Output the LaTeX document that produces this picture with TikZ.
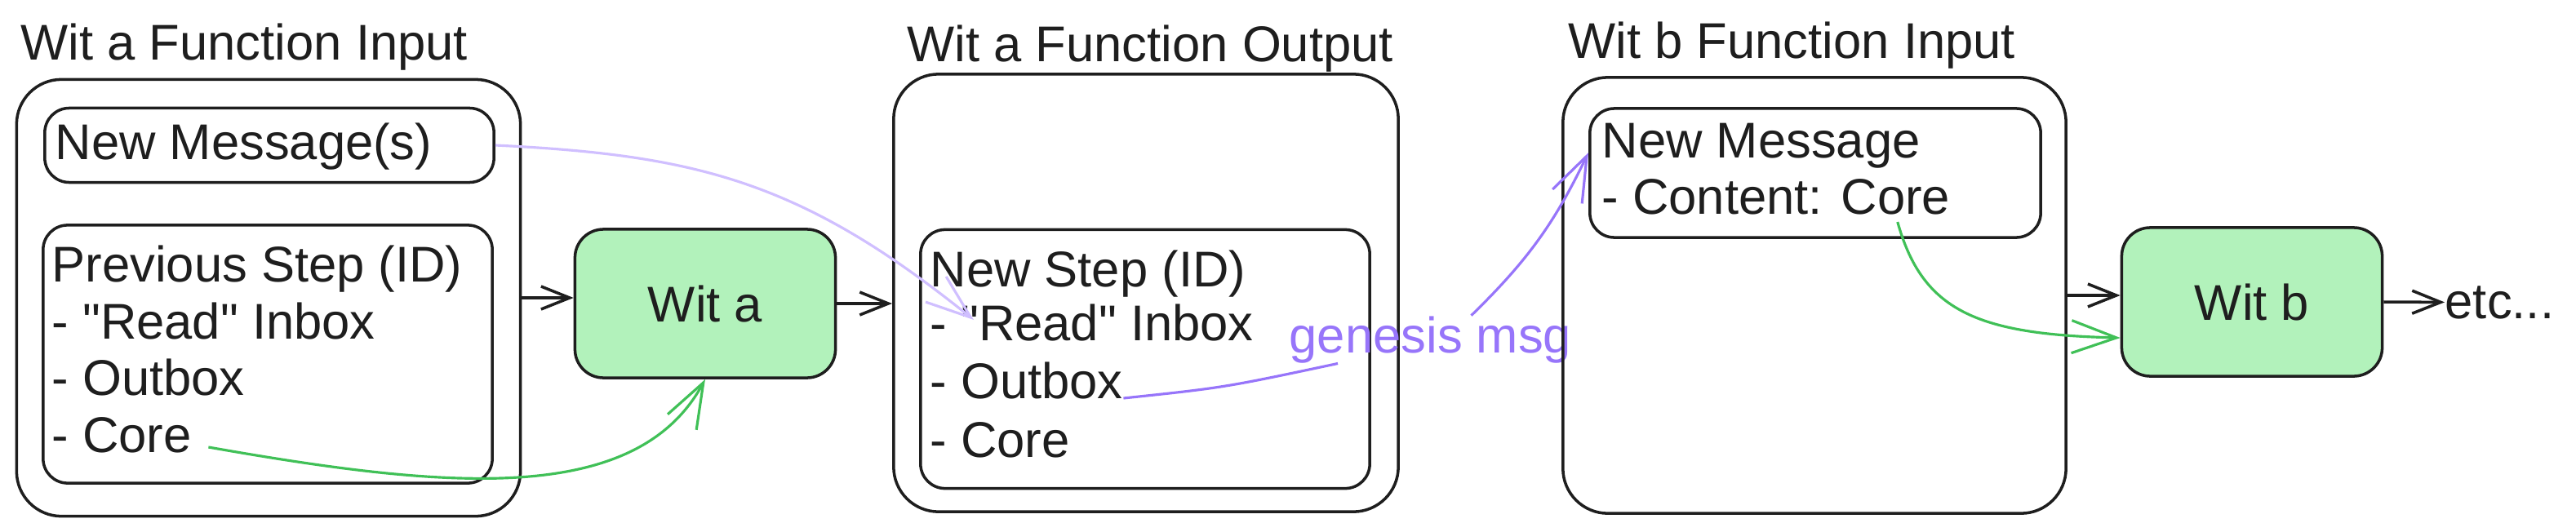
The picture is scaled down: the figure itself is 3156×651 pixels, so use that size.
\documentclass[tikz,border=0pt]{standalone}
\usepackage{fontspec}
\setmainfont{Liberation Sans}
\usetikzlibrary{arrows.meta}
\definecolor{ink}{HTML}{1E1E1E}
\definecolor{witfill}{HTML}{B2F2BB}
\definecolor{coreline}{HTML}{40C057}
\definecolor{msgline}{HTML}{D0BFFF}
\definecolor{msgviolet}{HTML}{9775FA}
\tikzset{
  frame/.style={draw=ink, line width=1pt, rounded corners=5.5mm, inner sep=0pt},
  part/.style={draw=ink, line width=1pt, rounded corners=3mm, inner sep=0pt},
  wit/.style={draw=ink, fill=witfill, line width=1pt, rounded corners=3.5mm, minimum width=3.19cm, minimum height=1.82cm, text=ink, font=\fontsize{17.5}{21}\selectfont},
  txt/.style={anchor=base west, inner sep=0pt, text=ink, font=\fontsize{17.5}{21}\selectfont},
  flow/.style={draw=ink, line width=1pt, -{Straight Barb[length=3.5mm,width=2.8mm]}},
  hand/.style={line width=0.9pt, -{Straight Barb[length=5.5mm,width=4mm]}}
}
\begin{document}
\begin{tikzpicture}[x=0.01cm,y=-0.01cm]
	\useasboundingbox (0,0) rectangle (3156,651);
	\node[txt] (t1) at (25,73) {Wit a Function Input};
	\node[frame, minimum width=6.17cm, minimum height=5.35cm] (in1) at (329,365) {};
	\node[part, minimum width=5.5cm, minimum height=0.91cm] (msgs) at (330,178) {};
	\node[txt] (l1) at (67,195) {New Message(s)};
	\node[part, minimum width=5.5cm, minimum height=3.16cm] (prev) at (328,434) {};
	\node[txt] (p1) at (63,345) {Previous Step (ID)};
	\node[txt] (p2) at (63,415) {- \textquotedbl Read\textquotedbl{} Inbox};
	\node[txt] (p3) at (63,484) {- Outbox};
	\node[txt] (pcore) at (63,554) {- Core};
	\node[wit] (wita) at (864,372) {Wit a};
	\node[txt] (t2) at (1111,75) {Wit a Function Output};
	\node[frame, minimum width=6.18cm, minimum height=5.36cm] (out1) at (1404,359) {};
	\node[part, minimum width=5.5cm, minimum height=3.17cm] (newstep) at (1403,440) {};
	\node[txt] (n1) at (1139,351) {New Step (ID)};
	\node[txt] (nread) at (1139,417) {- \textquotedbl Read\textquotedbl{} Inbox};
	\node[txt] (nout) at (1139,488) {- Outbox};
	\node[txt] (n4) at (1139,560) {- Core};
	\node[txt, text=msgviolet] (genesis) at (1579,432) {genesis msg};
	\node[txt] (t3) at (1921,71) {Wit b Function Input};
	\node[frame, minimum width=6.16cm, minimum height=5.34cm] (in2) at (2223,362) {};
	\node[part, minimum width=5.52cm, minimum height=1.58cm] (msg) at (2224,212) {};
	\node[txt] (m1) at (1962,193) {New Message};
	\node[txt] (mcore) at (1962,262) {- Content: Core};
	\node[wit] (witb) at (2759,370) {Wit b};
	\node[txt] (etc) at (2995,390) {etc...};
	\coordinate (readtip) at (1193,392);

	\draw[flow] (in1.east) -- (in1.east -| wita.west);
	\draw[flow] (wita.east) -- (wita.east -| out1.west);
	\draw[flow] (in2.east) -- (in2.east -| witb.west);
	\draw[flow] (witb.east) -- (etc.west);
	\draw[hand, coreline] ([xshift=2mm,yshift=0.6mm]pcore.base east) .. controls (550,600) and (780,620) .. (wita.south);
	\draw[hand, msgline] (msgs.east) .. controls (850,190) and (980,220) .. (readtip);
	\draw[line width=0.9pt, msgviolet] (nout.base east) .. controls (1500,475) .. ([xshift=6mm]genesis.south west);
	\draw[hand, msgviolet] ([xshift=5mm]genesis.north) to[bend right=10] ([yshift=2.5mm]msg.west);
	\draw[hand, coreline] ([xshift=-6.5mm,yshift=-1mm]mcore.base east) .. controls (2355,380) and (2420,410) .. ([yshift=-4.4mm]witb.west);
\end{tikzpicture}
\end{document}
